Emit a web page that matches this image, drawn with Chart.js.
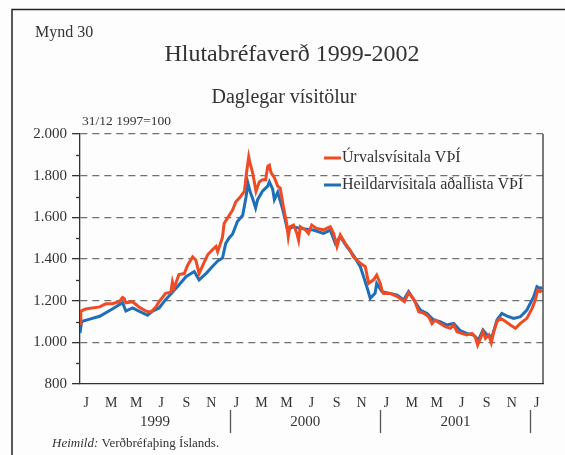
<!DOCTYPE html>
<html><head><meta charset="utf-8">
<script src="https://cdn.jsdelivr.net/npm/chart.js@4.4.1/dist/chart.umd.min.js"></script>
<style>html,body{margin:0;padding:0;background:#fdfdfd;}#wrap{position:relative;width:565px;height:455px;}</style>
</head><body><div id="wrap"><canvas id="c" width="565" height="455"></canvas></div>
<script>
// Úrvalsvísitala VÞÍ (red)
const urvalDates = ["1999-01-01","1999-01-03","1999-01-15","1999-02-17","1999-03-03","1999-03-19","1999-04-05","1999-04-13","1999-04-17","1999-04-21","1999-05-07","1999-05-23","1999-06-09","1999-06-21","1999-07-03","1999-07-11","1999-07-27","1999-08-09","1999-08-13","1999-08-17","1999-08-29","1999-09-11","1999-09-19","1999-10-01","1999-10-09","1999-10-17","1999-10-25","1999-11-07","1999-11-19","1999-11-27","1999-12-01","1999-12-09","1999-12-13","1999-12-17","1999-12-25",
"2000-01-07","2000-01-15","2000-01-27","2000-02-05","2000-02-10","2000-02-15","2000-02-18","2000-02-24","2000-03-03","2000-03-11","2000-03-19","2000-03-27","2000-04-01","2000-04-05","2000-04-09","2000-04-17","2000-04-25","2000-05-01","2000-05-09","2000-05-17","2000-05-21","2000-05-25","2000-06-03","2000-06-11","2000-06-15","2000-06-19","2000-07-01","2000-07-09","2000-07-17","2000-07-29","2000-08-15","2000-09-01","2000-09-09","2000-09-17","2000-09-25","2000-10-07","2000-10-19","2000-10-27","2000-11-13","2000-11-25","2000-12-03","2000-12-15","2000-12-23",
"2001-01-01","2001-01-05","2001-01-09","2001-01-25","2001-02-11","2001-02-27","2001-03-09","2001-03-17","2001-03-25","2001-04-03","2001-04-15","2001-04-27","2001-05-05","2001-05-13","2001-05-25","2001-06-07","2001-06-19","2001-06-27","2001-07-05","2001-07-17","2001-07-29","2001-08-11","2001-08-19","2001-08-25","2001-09-01","2001-09-07","2001-09-13","2001-09-21","2001-09-27","2001-10-03","2001-10-11","2001-10-19","2001-10-27","2001-11-13","2001-11-25","2001-12-07","2001-12-23",
"2002-01-05","2002-01-13","2002-01-19","2002-01-25","2002-01-30"];
const urvalValues = [1090,1150,1160,1170,1185,1185,1195,1215,1210,1190,1195,1170,1150,1145,1170,1195,1235,1240,1290,1260,1325,1330,1370,1410,1395,1330,1365,1420,1445,1460,1435,1480,1505,1570,1595,
1635,1675,1700,1725,1815,1890,1860,1815,1725,1770,1780,1780,1845,1850,1815,1790,1750,1740,1650,1570,1507,1555,1563,1523,1490,1555,1540,1523,1563,1547,1540,1555,1523,1460,1515,1475,1443,1410,1380,1363,1283,1300,1323,
1283,1250,1235,1235,1220,1195,1238,1220,1195,1147,1140,1123,1090,1107,1090,1075,1067,1083,1051,1043,1035,1043,1027,987,1019,1051,1019,1035,998,1051,1099,1115,1107,1083,1067,1091,1115,
1163,1203,1251,1243,1251];

// Heildarvísitala aðallista VÞÍ (blue)
const heildDates = ["1999-01-01","1999-01-05","1999-01-23","1999-02-17","1999-03-19","1999-04-13","1999-04-21","1999-05-07","1999-05-23","1999-06-13","1999-06-25","1999-07-11","1999-07-27","1999-08-13","1999-08-29","1999-09-15","1999-10-05","1999-10-17","1999-11-03","1999-11-19","1999-12-01","1999-12-13","1999-12-21","1999-12-29",
"2000-01-07","2000-01-19","2000-02-01","2000-02-09","2000-02-13","2000-02-18","2000-02-24","2000-03-02","2000-03-07","2000-03-19","2000-04-01","2000-04-05","2000-04-13","2000-04-17","2000-04-25","2000-05-07","2000-05-19","2000-06-01","2000-06-19","2000-07-21","2000-08-15","2000-09-01","2000-09-13","2000-09-25","2000-10-11","2000-10-27","2000-11-13","2000-11-21","2000-12-01","2000-12-07","2000-12-19","2000-12-23",
"2001-01-05","2001-01-25","2001-02-11","2001-02-25","2001-03-09","2001-03-25","2001-04-07","2001-04-23","2001-05-09","2001-05-25","2001-06-11","2001-06-27","2001-07-13","2001-07-29","2001-08-15","2001-08-27","2001-09-07","2001-09-17","2001-09-29","2001-10-11","2001-10-23","2001-11-05","2001-11-21","2001-12-07","2001-12-23",
"2002-01-09","2002-01-17","2002-01-25","2002-01-30"];
const heildValues = [1045,1100,1110,1125,1160,1190,1150,1165,1150,1130,1150,1165,1205,1240,1275,1315,1340,1300,1330,1365,1390,1405,1475,1500,
1520,1580,1610,1700,1765,1725,1690,1645,1685,1725,1750,1770,1735,1685,1720,1640,1540,1555,1547,1539,1523,1539,1475,1507,1459,1419,1363,1315,1251,1211,1235,1283,
1243,1235,1227,1203,1243,1195,1155,1139,1107,1099,1083,1091,1056,1043,1035,1011,1059,1035,1027,1107,1139,1126,1115,1123,1155,
1219,1267,1259,1264];

const monthTickLabels = ["J","M","M","J","S","N","J","M","M","J","S","N","J","M","M","J","S","N","J"];
const yearLabels = ["1999","2000","2001"];
const seriesNames = ["Úrvalsvísitala VÞÍ","Heildarvísitala aðallista VÞÍ"];
const yTickLabels = {800:"800",1000:"1.000",1200:"1.200",1400:"1.400",1600:"1.600",1800:"1.800",2000:"2.000"};

const SERIF = '"Liberation Serif", "Times New Roman", serif';
const TXT = '#333333';
const RED = '#ef4b25';
const BLUE = '#1f6fb8';

function toMonth(d){
  const [y,m,day] = d.split('-').map(Number);
  const dim = new Date(y, m, 0).getDate();
  return (y-1999)*12 + (m-1) + (day-1)/dim;
}
const pts = (dates, vals) => dates.map((d,i)=>({x:toMonth(d), y:vals[i]}));

const decor = {
  id:'decor',
  beforeDraw(chart){
    const ctx = chart.ctx;
    ctx.save();
    ctx.fillStyle = '#fdfdfd';
    ctx.fillRect(0,0,chart.width,chart.height);
    ctx.strokeStyle = '#222'; ctx.lineWidth = 1.5;
    ctx.beginPath(); ctx.moveTo(12, 455); ctx.lineTo(12, 9.5); ctx.lineTo(565, 9.5); ctx.stroke();
    ctx.restore();
  },
  afterDraw(chart){
    const ctx = chart.ctx, ca = chart.chartArea, xs = chart.scales.x, ys = chart.scales.y;
    ctx.save();
    ctx.strokeStyle = '#333'; ctx.lineWidth = 1.3;
    ctx.beginPath(); ctx.moveTo(ca.right, ca.top); ctx.lineTo(ca.right, ca.bottom); ctx.stroke();
    for (let v = 900; v < 2000; v += 200){
      const y = Math.round(ys.getPixelForValue(v)) + 0.5;
      ctx.beginPath(); ctx.moveTo(ca.left - 4, y); ctx.lineTo(ca.left, y); ctx.stroke();
    }
    ctx.fillStyle = TXT;
    ctx.textBaseline = 'middle';
    ctx.textAlign = 'left';
    ctx.font = '16px ' + SERIF;
    ctx.fillText('Mynd 30', 35, 33);
    ctx.textAlign = 'center';
    ctx.font = '24px ' + SERIF;
    ctx.fillText('Hlutabréfaverð 1999-2002', 292, 55);
    ctx.font = '20px ' + SERIF;
    ctx.fillText('Daglegar vísitölur', 284, 98);
    ctx.textAlign = 'left';
    ctx.font = '13.5px ' + SERIF;
    ctx.fillText('31/12 1997=100', 82, 121);
    const leg = [[RED, 158],[BLUE, 185]];
    ctx.font = '16px ' + SERIF;
    leg.forEach(([c,y],i)=>{
      ctx.strokeStyle = c; ctx.lineWidth = 3;
      ctx.beginPath(); ctx.moveTo(324, y); ctx.lineTo(341, y); ctx.stroke();
      ctx.fillStyle = TXT;
      ctx.fillText(seriesNames[i], 342, y);
    });
    ctx.font = '15px ' + SERIF;
    ctx.textAlign = 'center';
    yearLabels.forEach((lab,i)=>{
      ctx.fillText(lab, xs.getPixelForValue(i*12+6), 422);
      const sx = Math.round(xs.getPixelForValue((i+1)*12)) + 0.5;
      ctx.strokeStyle = '#555'; ctx.lineWidth = 1.3;
      ctx.beginPath(); ctx.moveTo(sx, 410); ctx.lineTo(sx, 433); ctx.stroke();
    });
    ctx.textAlign = 'left';
    ctx.font = 'italic 13px ' + SERIF;
    ctx.fillText('Heimild:', 52, 444);
    const w = ctx.measureText('Heimild: ').width;
    ctx.font = '13px ' + SERIF;
    ctx.fillText('Verðbréfaþing Íslands.', 52 + w, 444);
    ctx.restore();
  }
};

new Chart(document.getElementById('c'), {
  type:'line',
  data:{datasets:[
    {label:seriesNames[0], data:pts(urvalDates, urvalValues), borderColor:RED, borderWidth:3, pointRadius:0, tension:0},
    {label:seriesNames[1], data:pts(heildDates, heildValues), borderColor:BLUE, borderWidth:3, pointRadius:0, tension:0}
  ]},
  options:{
    responsive:false, animation:false, devicePixelRatio:1,
    layout:{padding:{top:134, right:22, left:0, bottom:0}},
    plugins:{legend:{display:false}, tooltip:{enabled:false}},
    scales:{
      x:{type:'linear', min:0, max:37,
        afterBuildTicks(scale){ scale.ticks = monthTickLabels.map((l,i)=>({value:i*2+0.5})); },
        afterFit(scale){ scale.height = 71; },
        ticks:{autoSkip:false, maxRotation:0, padding:11, color:TXT, font:{family:SERIF, size:14},
          callback:(v,i)=>monthTickLabels[i]},
        grid:{display:true, drawOnChartArea:false, drawTicks:false},
        border:{color:'#333', width:1.3}
      },
      y:{min:800, max:2000,
        afterBuildTicks(scale){ scale.ticks = Object.keys(yTickLabels).map(v=>({value:Number(v)})); },
        afterFit(scale){ scale.width = 80; },
        ticks:{padding:5, color:TXT, font:{family:SERIF, size:15}, callback:(v)=>yTickLabels[v]},
        grid:{color:(c)=> (c.tick && c.tick.value>800) ? '#707070' : 'rgba(0,0,0,0)', lineWidth:1.3,
              tickColor:'#333', tickLength:8},
        border:{color:'#333', width:1.3, dash:[7,5]}
      }
    }
  },
  plugins:[decor]
});
</script></body></html>
